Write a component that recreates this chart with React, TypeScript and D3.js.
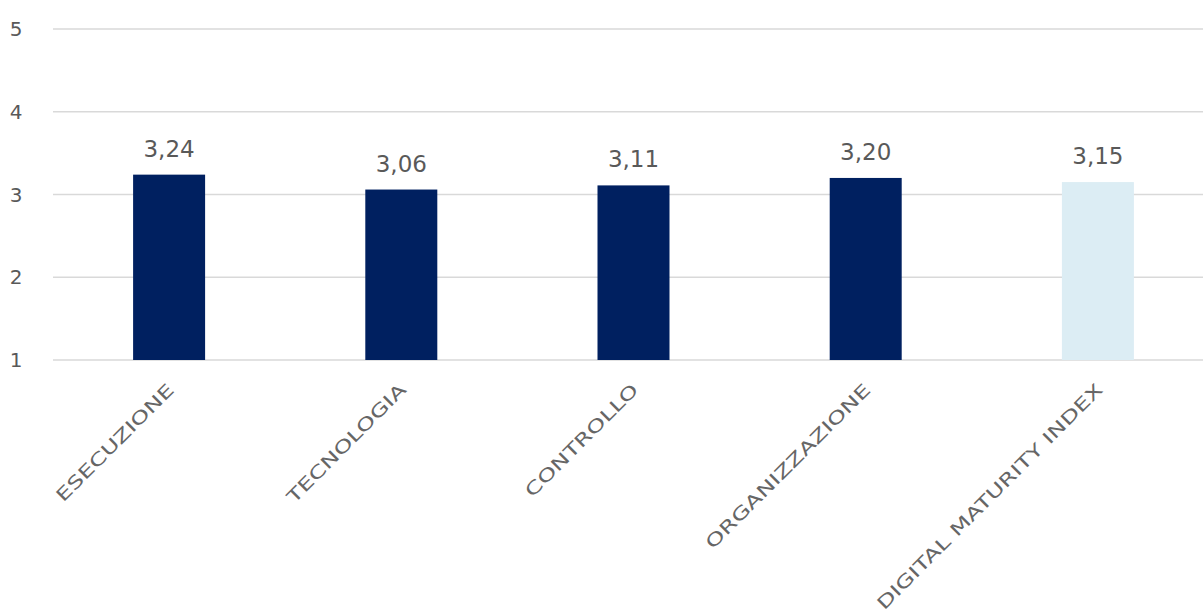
import React from "react";
import * as d3 from "d3";

const categories = ["ESECUZIONE", "TECNOLOGIA", "CONTROLLO", "ORGANIZZAZIONE", "DIGITAL MATURITY INDEX"];
const values = [3.24, 3.06, 3.11, 3.2, 3.15];
const barColors = ["#002060", "#002060", "#002060", "#002060", "#DCEDF4"];
const yTicks = [1, 2, 3, 4, 5];

const W = 1203;
const H = 615;
const FONT = "'DejaVu Sans', sans-serif";

export default function App() {
  const x = d3.scaleBand<string>().domain(categories).range([53, 1214]).paddingInner(0).paddingOuter(0);
  const y = d3.scaleLinear().domain([1, 5]).range([360, 29]);
  const bw = 72;
  const fmt = (v: number) => v.toFixed(2).replace(".", ",");

  return (
    <svg width={W} height={H} style={{ position: "absolute", left: 0, top: 0, background: "#fff" }}>
      {yTicks.map((t) => (
        <g key={t}>
          <line x1={53} x2={W} y1={y(t)} y2={y(t)} stroke="#d9d9d9" strokeWidth={1.5} />
          <text x={16} y={y(t)} textAnchor="middle" dominantBaseline="central" fontFamily={FONT} fontSize={20} fill="#595959">
            {t}
          </text>
        </g>
      ))}
      {categories.map((c, i) => {
        const cx = (x(c) as number) + x.bandwidth() / 2;
        return (
          <g key={c}>
            <rect x={cx - bw / 2} y={y(values[i])} width={bw} height={y(1) - y(values[i])} fill={barColors[i]} />
            <text x={cx} y={y(values[i]) - 18} textAnchor="middle" fontFamily={FONT} fontSize={23} fill="#595959">
              {fmt(values[i])}
            </text>
            <g transform={`translate(${cx + 6},${391}) rotate(-45)`}>
              <text
                transform="scale(1.4,1)"
                textAnchor="end"
                fontFamily={FONT}
                fontSize={17.5}
                fill="#666666"
              >
                {c}
              </text>
            </g>
          </g>
        );
      })}
    </svg>
  );
}
